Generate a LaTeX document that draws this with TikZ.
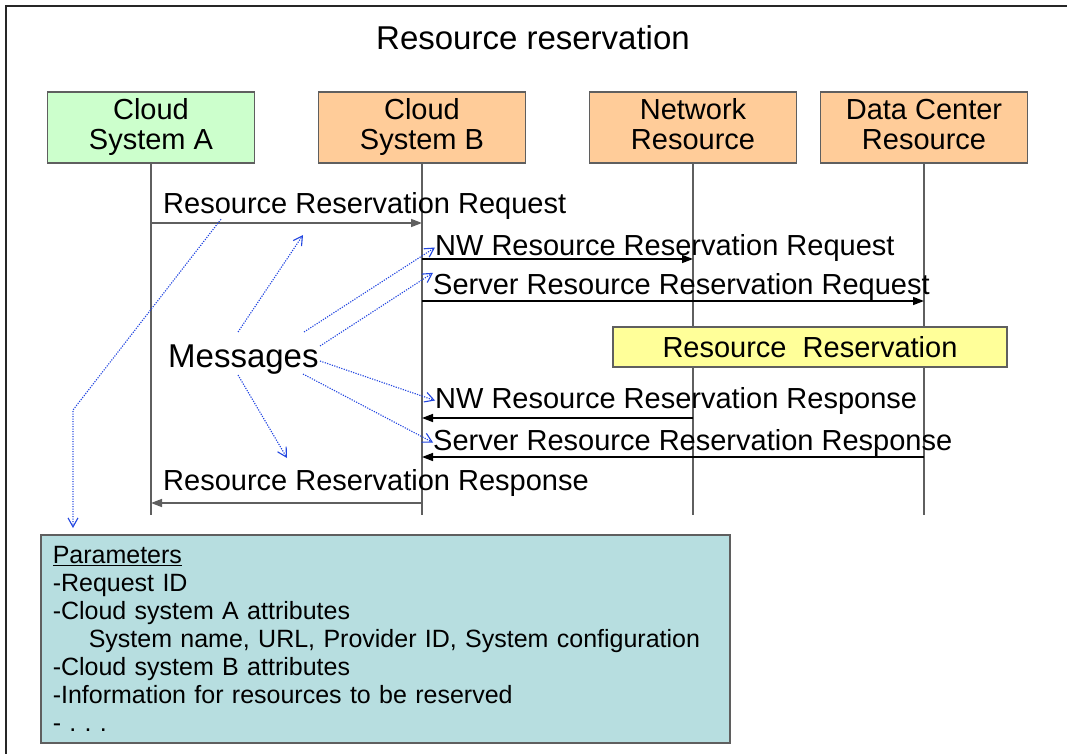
\documentclass[tikz,border=0pt]{standalone}
\usepackage{fontspec}
\setmainfont{Liberation Sans}
\usetikzlibrary{positioning,arrows.meta}
\definecolor{cloudgreen}{HTML}{CCFFCC}
\definecolor{cloudorange}{HTML}{FFCC99}
\definecolor{resyellow}{HTML}{FFFF99}
\definecolor{paramteal}{HTML}{B7DEE0}
\definecolor{linegray}{HTML}{5F5F5F}
\definecolor{hintblue}{HTML}{2246E0}
\tikzset{
node distance=271pt, % spacing of the lifelines
entity/.style={draw=linegray, line width=1.5pt, minimum width=207pt, minimum height=71pt,
  inner sep=0pt, align=center, font=\fontsize{29}{30}\selectfont}, % the four parties
lifeline/.style={linegray, line width=1.6pt},
msgarrow/.style={line width=1.5pt, -{Triangle[length=11pt,width=8pt]}},
msglabel/.style={anchor=base west, inner sep=0pt, font=\fontsize{29}{30}\selectfont},
hint/.style={hintblue, line width=1.1pt, dash pattern=on 1.2pt off 1.3pt,
  -{Straight Barb[length=9pt,width=10pt]}}, % blue dotted pointers
}

\begin{document}
\begin{tikzpicture}[x=1pt,y=-1pt,on grid]
   \useasboundingbox (0,0) rectangle (1067,754);
   \draw[black!85, line width=1.5pt] (1067,6) -- (6,6) -- (6,754);
   \node[anchor=base, font=\fontsize{33}{33}\selectfont] (title) at (533,50) {Resource reservation};

   \node[entity, fill=cloudgreen] (A) at (151,127.5) {Cloud\\System A};
   \node[entity, fill=cloudorange] (B) [right=of A] {Cloud\\System B};
   \node[entity, fill=cloudorange] (N) [right=of B] {Network\\Resource\vphantom{y}};
   \node[entity, fill=cloudorange] (D) [right=231pt of N] {Data Center\\Resource\vphantom{y}};

   % message levels
   \coordinate (bottom) at (0,515);
   \coordinate (y1) at (0,223);
   \coordinate (y2) at (0,259);
   \coordinate (y3) at (0,301);
   \coordinate (y4) at (0,418);
   \coordinate (y5) at (0,457);
   \coordinate (y6) at (0,503);

   \foreach \n in {A,B,N,D}
      \draw[lifeline] (\n.south) -- (\n |- bottom);

   \node[draw=linegray, line width=1.5pt, fill=resyellow, minimum width=394pt, minimum height=40pt,
      inner sep=0pt, font=\fontsize{29}{30}\selectfont] (res) at (810,347) {Resource\ \ Reservation};

   \draw[msgarrow, linegray] (A |- y1) -- (B |- y1);
   \draw[msgarrow] (B |- y2) -- (N |- y2);
   \draw[msgarrow] (B |- y3) -- (D |- y3);
   \draw[msgarrow] (N |- y4) -- (B |- y4);
   \draw[msgarrow] (D |- y5) -- (B |- y5);
   \draw[msgarrow, linegray] (B |- y6) -- (A |- y6);

   \node[msglabel] (l1) at (163,213) {Resource Reservation Request};
   \node[msglabel] (l2) at (435,255) {NW Resource Reservation Request};
   \node[msglabel] (l3) at (433,294) {Server Resource Reservation Request};
   \node[msglabel] (l4) at (435,408) {NW Resource Reservation Response};
   \node[msglabel] (l5) at (433,450) {Server Resource Reservation Response};
   \node[msglabel] (l6) at (163,490) {Resource Reservation Response};

   \node[anchor=base west, inner sep=0pt, font=\fontsize{33}{33}\selectfont] (messages) at (168,367) {Messages};

   \node[draw=linegray, line width=1.5pt, fill=paramteal, anchor=north west, minimum width=689pt,
      minimum height=208pt, text width=665pt, inner xsep=12pt, align=left,
      font=\fontsize{25}{28}\selectfont] (par) at (40,534)
      {\underline{Parameters}\\-Request ID\\-Cloud system A attributes\\
       \hspace*{36pt}System name, URL, Provider ID, System configuration\\
       -Cloud system B attributes\\-Information for resources to be reserved\\- .\ .\ .};

   % tails and free ends of the pointers
   \coordinate (m1) at (238,332);
   \coordinate (m2) at (304,332);
   \coordinate (m3) at (320,346);
   \coordinate (m4) at (320,361);
   \coordinate (m5) at (303,374);
   \coordinate (m6) at (238,375);
   \coordinate (up) at (303,235);
   \coordinate (down) at (287,458);
   \coordinate (bend) at (73,410);
   \coordinate (note) at (73,528);

   \draw[hint] (m1) -- (up);
   \draw[hint] (m2) -- (l2.west);
   \draw[hint] (m3) -- (l3.north west);
   \draw[hint] (m4) -- (l4.west);
   \draw[hint] (m5) -- (l5.west);
   \draw[hint] (m6) -- (down);
   \draw[hint] ([xshift=58pt]l1.south west) -- (bend) -- (note);
\end{tikzpicture}
\end{document}
